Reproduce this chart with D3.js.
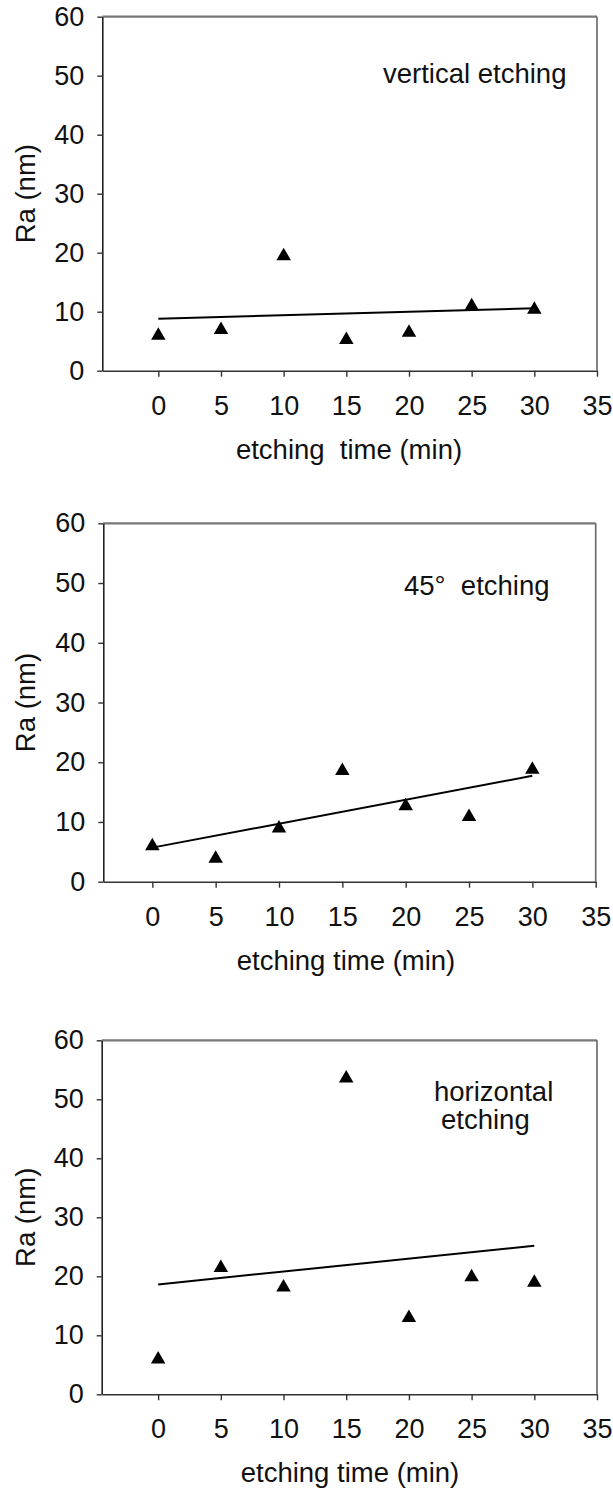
<!DOCTYPE html>
<html>
<head>
<meta charset="utf-8">
<script src="https://cdn.jsdelivr.net/npm/d3@7"></script>
<style>
  html, body { margin: 0; padding: 0; background: #fff; }
  svg { display: block; }
  text { font-family: "Liberation Sans", Arial, sans-serif; fill: #111; white-space: pre; }
</style>
</head>
<body>
<div id="chart"></div>
<script>
// Surface roughness Ra vs. etching time, three etching orientations
const etchingTimes = [0, 5, 10, 15, 20, 25, 30];
const raVertical   = [6.3, 7.3, 19.8, 5.6, 6.8, 11.3, 10.7];
const raDeg45      = [6.3, 4.2, 9.3, 18.9, 13.0, 11.2, 19.1];
const raHorizontal = [6.3, 21.8, 18.5, 53.9, 13.3, 20.2, 19.3];

const xTickValues = [0, 5, 10, 15, 20, 25, 30, 35];
const yTickValues = [0, 10, 20, 30, 40, 50, 60];

const panelNotes  = [["vertical etching"], ["45\u00B0  etching"], ["horizontal", "etching"]];
const xTitles     = ["etching  time (min)", "etching time (min)", "etching time (min)"];
const yTitle      = "Ra (nm)";

const W = 613, H = 1492;
const TICK_FONT = 27;
const TEXT_FONT = 27.5;

// frame geometry for each panel (pixels) and the left end of the time axis
const panels = [
  { values: raVertical,   left: 102.3, right: 597,   top: 16.7,   bottom: 370.7,  xMin: -4.47,
    titleX: 349, note: { x: 383, y: 83, dy: 0 } },
  { values: raDeg45,      left: 103.3, right: 595.7, top: 523.3,  bottom: 881.7,  xMin: -3.87,
    titleX: 346, note: { x: 404, y: 595, dy: 0 } },
  { values: raHorizontal, left: 101.7, right: 597,   top: 1040.3, bottom: 1394.3, xMin: -4.5,
    titleX: 350, note: { x: 434, y: 1101, dy: 28 } }
];

const svg = d3.select("#chart").append("svg")
  .attr("width", W).attr("height", H);

// least-squares fit of y on x
function linearFit(xs, ys) {
  const mx = d3.mean(xs), my = d3.mean(ys);
  const sxy = d3.sum(xs, (x, i) => (x - mx) * (ys[i] - my));
  const sxx = d3.sum(xs, x => (x - mx) * (x - mx));
  const slope = sxy / sxx;
  return { slope, intercept: my - slope * mx };
}

// filled triangle marker centred on its bounding box
function triangle(w, h) {
  return `M0,${-h / 2}L${w / 2},${h / 2}L${-w / 2},${h / 2}Z`;
}

panels.forEach((p, idx) => {
  const x = d3.scaleLinear().domain([p.xMin, 35]).range([p.left, p.right]);
  const y = d3.scaleLinear().domain([0, 60]).range([p.bottom, p.top]);
  const g = svg.append("g");

  // frame: top and right edges
  g.append("line")
    .attr("x1", p.left).attr("x2", p.right).attr("y1", p.top).attr("y2", p.top)
    .attr("stroke", "#777").attr("stroke-width", 2.2);
  g.append("line")
    .attr("x1", p.right).attr("x2", p.right).attr("y1", p.top).attr("y2", p.bottom)
    .attr("stroke", "#666").attr("stroke-width", 1.6);

  // y axis
  const yAxis = g.append("g")
    .attr("transform", `translate(${p.left},0)`)
    .call(d3.axisLeft(y).tickValues(yTickValues).tickFormat(d3.format("d"))
      .tickSize(5).tickSizeOuter(0).tickPadding(13));
  yAxis.select(".domain").attr("stroke", "#222").attr("stroke-width", 1.6);
  yAxis.selectAll(".tick line").attr("stroke", "#333").attr("stroke-width", 1.4);
  yAxis.selectAll(".tick text").attr("font-size", TICK_FONT).attr("fill", "#111")
    .attr("font-family", "Liberation Sans, Arial, sans-serif");

  // x axis
  const xAxis = g.append("g")
    .attr("transform", `translate(0,${p.bottom})`)
    .call(d3.axisBottom(x).tickValues(xTickValues).tickFormat(d3.format("d"))
      .tickSize(6).tickSizeOuter(0).tickPadding(19));
  xAxis.select(".domain").attr("stroke", "#333").attr("stroke-width", 1.6);
  xAxis.selectAll(".tick line").attr("stroke", "#333").attr("stroke-width", 1.4);
  xAxis.selectAll(".tick text").attr("font-size", TICK_FONT).attr("fill", "#111")
    .attr("font-family", "Liberation Sans, Arial, sans-serif");

  // axis titles
  g.append("text")
    .attr("x", p.titleX)
    .attr("y", p.bottom + 88)
    .attr("text-anchor", "middle")
    .attr("font-size", TEXT_FONT)
    .text(xTitles[idx]);

  g.append("text")
    .attr("transform", `translate(35,${(p.top + p.bottom) / 2}) rotate(-90)`)
    .attr("text-anchor", "middle")
    .attr("font-size", TEXT_FONT)
    .text(yTitle);

  // regression line over the measured time range
  const fit = linearFit(etchingTimes, p.values);
  const t0 = d3.min(etchingTimes), t1 = d3.max(etchingTimes);
  g.append("line")
    .attr("x1", x(t0)).attr("y1", y(fit.intercept + fit.slope * t0))
    .attr("x2", x(t1)).attr("y2", y(fit.intercept + fit.slope * t1))
    .attr("stroke", "#000").attr("stroke-width", 2);

  // data points
  g.selectAll("path.pt")
    .data(etchingTimes.map((t, i) => ({ t, v: p.values[i] })))
    .join("path")
    .attr("class", "pt")
    .attr("transform", d => `translate(${x(d.t)},${y(d.v)})`)
    .attr("d", triangle(14.5, 12.5))
    .attr("fill", "#000");

  // orientation note
  const note = g.append("text")
    .attr("x", p.note.x).attr("y", p.note.y)
    .attr("font-size", TEXT_FONT);
  panelNotes[idx].forEach((line, k) => {
    note.append("tspan")
      .attr("x", p.note.x + (k > 0 ? 7 : 0))
      .attr("y", p.note.y + k * p.note.dy)
      .text(line);
  });
});
</script>
</body>
</html>
